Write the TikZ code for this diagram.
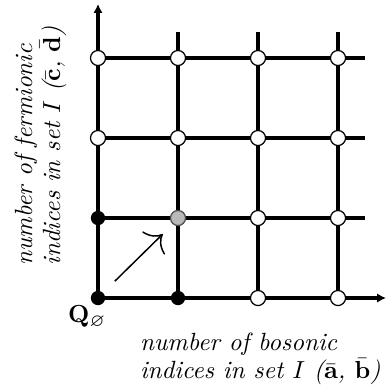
\documentclass[tikz,border=0pt]{standalone}
\usepackage{amsmath,amssymb}
\usepackage{xcolor}
\usetikzlibrary{positioning,arrows.meta}

\begin{document}
\begin{tikzpicture}[x=1.14cm, y=1.14cm,
  gridln/.style={line width=1.8pt},
  bdot/.style={circle, fill=black, inner sep=0pt, minimum size=5.8pt},
  wdot/.style={circle, draw=black, fill=white, line width=0.5pt, inner sep=0pt, minimum size=6.1pt},
  gdot/.style={circle, draw=black!70, fill=gray!55, line width=0.5pt, inner sep=0pt, minimum size=6.1pt},
  lab/.style={align=left, inner sep=0pt, font=\fontsize{10.1}{9.4}\selectfont\itshape}]
\useasboundingbox (-1.225,-1.0875) rectangle (3.6125,3.725);
% axes and lattice
\draw[gridln, -{Latex[length=3.6pt,width=3.8pt]}] (0,0) -- (3.6,0);
\draw[gridln, -{Latex[length=3.6pt,width=3.8pt]}] (0,0) -- (0,3.675);
\draw[gridln] (0,1) -- (3.34,1);
\draw[gridln] (0,2) -- (3.34,2);
\draw[gridln] (0,3) -- (3.34,3);
\draw[gridln] (1,0) -- (1,3.325);
\draw[gridln] (2,0) -- (2,3.325);
\draw[gridln] (3,0) -- (3,3.325);
% lattice points
\node[bdot] (p00) at (0,0) {};
\node[bdot] (p10) at (1,0) {};
\node[wdot] (p20) at (2,0) {};
\node[wdot] (p30) at (3,0) {};
\node[bdot] (p01) at (0,1) {};
\node[gdot] (p11) at (1,1) {};
\node[wdot] (p21) at (2,1) {};
\node[wdot] (p31) at (3,1) {};
\node[wdot] (p02) at (0,2) {};
\node[wdot] (p12) at (1,2) {};
\node[wdot] (p22) at (2,2) {};
\node[wdot] (p32) at (3,2) {};
\node[wdot] (p03) at (0,3) {};
\node[wdot] (p13) at (1,3) {};
\node[wdot] (p23) at (2,3) {};
\node[wdot] (p33) at (3,3) {};
% step towards the next point
\coordinate (stepfrom) at (0.21,0.21);
\coordinate (stepto) at (0.81,0.8);
\draw[line width=0.6pt, -{To[length=5.5pt,width=13pt]}] (stepfrom) -- (stepto);
% labels
\node (qnull) at (-0.135,-0.24) {$\mathbf{Q}_{\varnothing}$};
\node[lab, anchor=north west] (boslab) at (0.52,-0.43)
  {number of bosonic\\indices in set $I$ ($\bar{\mathbf{a}}$, $\bar{\mathbf{b}}$)};
\node[lab, rotate=90, anchor=west] (fermlab) at (-0.72,0.4)
  {number of fermionic\\indices in set $I$ ($\bar{\mathbf{c}}$, $\bar{\mathbf{d}}$)};
\end{tikzpicture}
\end{document}
